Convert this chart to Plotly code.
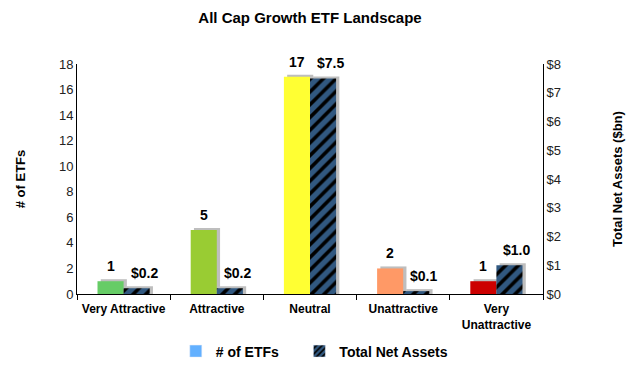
import plotly.graph_objects as go

categories = ["Very Attractive", "Attractive", "Neutral", "Unattractive", "Very<br>Unattractive"]
num_etfs = [1, 5, 17, 2, 1]
net_assets = [0.2, 0.2, 7.5, 0.1, 1.0]
bar_colors = ["#66CC66", "#99CC33", "#FFFF33", "#FF9966", "#CC0000"]
left_ticks = list(range(0, 19, 2))
right_ticks = list(range(0, 9))

FONT = "Liberation Sans, Arial, sans-serif"
W = 0.28
SH_X = 0.035          # shadow shift (category units)
SH_Y1 = 18 / 230 * 2  # ~2px in left-axis units
SH_Y2 = 8 / 230 * 2   # ~2px in right-axis units
BLUE = "#62B0FF"
SHADOW = "rgba(110,110,110,0.45)"

fig = go.Figure()
# shadows
fig.add_trace(go.Bar(x=categories, y=[v + SH_Y1 for v in num_etfs], width=W, offset=-W + SH_X,
                     marker=dict(color=SHADOW, line=dict(width=0)), showlegend=False,
                     hoverinfo="skip", yaxis="y"))
fig.add_trace(go.Bar(x=categories, y=[v + SH_Y2 for v in net_assets], width=W, offset=SH_X,
                     marker=dict(color=SHADOW, line=dict(width=0)), showlegend=False,
                     hoverinfo="skip", yaxis="y2"))
# main bars
fig.add_trace(go.Bar(
    x=categories, y=num_etfs, width=W, offset=-W,
    marker=dict(color=bar_colors, line=dict(width=0)),
    showlegend=False, yaxis="y", name="# of ETFs",
))
fig.add_trace(go.Bar(
    x=categories, y=net_assets, width=W, offset=0,
    marker=dict(color="black", line=dict(width=0),
                pattern=dict(shape="/", fgcolor=BLUE, bgcolor="black", size=9, solidity=0.6)),
    showlegend=False, yaxis="y2", name="Total Net Assets",
))
# legend entries
fig.add_trace(go.Bar(x=[None], y=[None], name="<b># of ETFs</b>\u00a0\u00a0\u00a0\u00a0",
                     marker=dict(color=BLUE), yaxis="y"))
fig.add_trace(go.Bar(x=[None], y=[None], name="<b>Total Net Assets</b>", yaxis="y2",
                     marker=dict(color="black",
                                 pattern=dict(shape="/", fgcolor=BLUE, bgcolor="black", size=5, solidity=0.6))))

annotations = []
for i, v in enumerate(num_etfs):
    annotations.append(dict(x=i - W / 2, y=v, xref="x", yref="y", text=f"<b>{v}</b>",
                            showarrow=False, yanchor="bottom", yshift=5,
                            font=dict(family=FONT, size=14, color="black")))
for i, v in enumerate(net_assets):
    annotations.append(dict(x=i + W / 2 + 0.08, y=v, xref="x", yref="y2", text=f"<b>${v:.1f}</b>",
                            showarrow=False, yanchor="bottom", yshift=5,
                            font=dict(family=FONT, size=14, color="black")))

fig.update_layout(
    width=630, height=367,
    margin=dict(l=77, r=87, t=64, b=73, autoexpand=False),
    paper_bgcolor="white", plot_bgcolor="white",
    title=dict(text="<b>All Cap Growth ETF Landscape</b>", x=0.5, xanchor="center",
               xref="paper", y=1 - 18 / 367, yanchor="middle", yref="container",
               font=dict(family=FONT, size=15, color="black")),
    font=dict(family=FONT, size=12, color="black"),
    barmode="overlay",
    xaxis=dict(type="category", showline=True, linecolor="black", linewidth=1,
               ticks="outside", tickson="boundaries", ticklen=5, tickcolor="black",
               ticklabelstandoff=4, tickangle=0,
               tickvals=categories, ticktext=[f"<b>{c}</b>" for c in categories],
               tickfont=dict(family=FONT, size=12, color="black"),
               showgrid=False, range=[-0.5, 4.5]),
    yaxis=dict(range=[0, 18], tickvals=left_ticks, showline=True, linecolor="black",
               linewidth=1, showgrid=False, ticks="", zeroline=False,
               tickfont=dict(family=FONT, size=13, color="#222"),
               title=dict(text="<b># of ETFs</b>", font=dict(family=FONT, size=13, color="black"),
                          standoff=30)),
    yaxis2=dict(range=[0, 8], tickvals=right_ticks, ticktext=[f"${t}" for t in right_ticks],
                overlaying="y", side="right", showline=True, linecolor="black",
                linewidth=1, showgrid=False, ticks="", zeroline=False,
                tickfont=dict(family=FONT, size=13, color="#222"),
                title=dict(text="<b>Total Net Assets ($bn)</b>",
                           font=dict(family=FONT, size=13, color="black"), standoff=52)),
    legend=dict(orientation="h", x=0.212, xanchor="left", y=-0.25, yanchor="middle",
                font=dict(family=FONT, size=14, color="black"),
                itemwidth=30),
    annotations=annotations,
)

fig.write_html("out.html", config={"displayModeBar": False},
               post_script="document.body.style.margin='0';document.body.style.overflow='hidden';")
